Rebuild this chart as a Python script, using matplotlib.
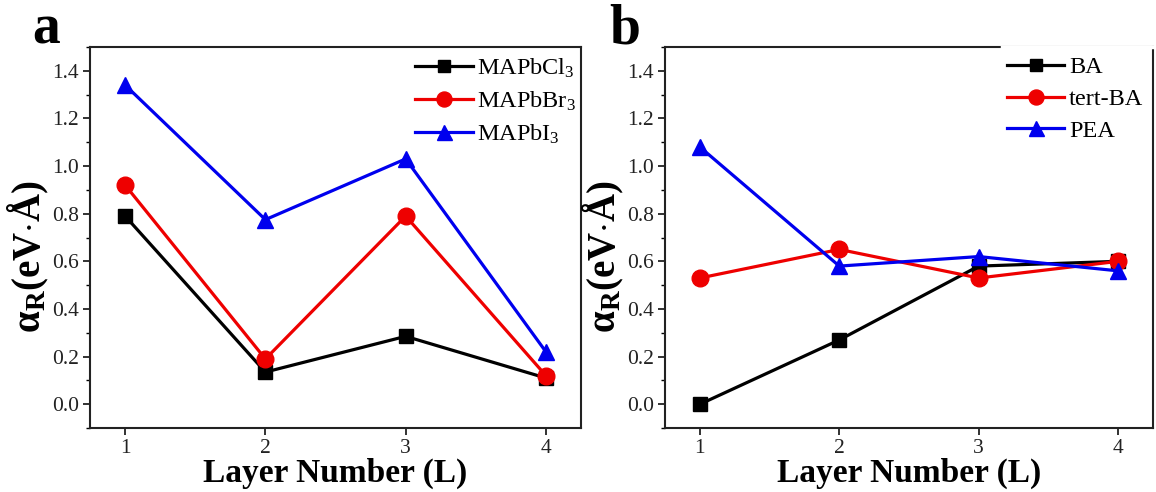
import matplotlib
matplotlib.use("Agg")
import matplotlib.pyplot as plt
from matplotlib.ticker import MultipleLocator

plt.rcParams['font.family'] = ['Liberation Serif', 'DejaVu Serif']
plt.rcParams['mathtext.fontset'] = 'custom'
plt.rcParams['mathtext.rm'] = 'Liberation Serif'
plt.rcParams['mathtext.it'] = 'Liberation Serif:italic'
plt.rcParams['mathtext.bf'] = 'Liberation Serif:bold'

layers = [1, 2, 3, 4]

# Panel a
a_labels = ['MAPbCl$_3$', 'MAPbBr$_3$', 'MAPbI$_3$']
a_cl = [0.79, 0.135, 0.285, 0.11]
a_br = [0.92, 0.19, 0.79, 0.12]
a_i = [1.34, 0.775, 1.03, 0.22]

# Panel b
b_labels = ['BA', 'tert-BA', 'PEA']
b_ba = [0.0, 0.27, 0.58, 0.60]
b_tba = [0.53, 0.65, 0.53, 0.60]
b_pea = [1.08, 0.58, 0.62, 0.56]

colors = ['#000000', '#ee0000', '#0000ee']
markers = ['s', 'o', '^']
msizes = [10, 12, 12]

fig = plt.figure(figsize=(11.56, 4.92), dpi=100)
axa = fig.add_axes([0.0779, 0.130, 0.4247, 0.7745])
axb = fig.add_axes([0.5753, 0.130, 0.4221, 0.7745])

def draw(ax, series, labels, legx):
    for s, lab, c, m, ms in zip(series, labels, colors, markers, msizes):
        ax.plot(layers, s, color=c, marker=m, markersize=ms, lw=2.3,
                label=lab, markeredgecolor=c)
    ax.set_xlim(0.75, 4.25)
    ax.set_ylim(-0.1, 1.5)
    ax.set_xticks(layers)
    ax.yaxis.set_major_locator(MultipleLocator(0.2))
    ax.yaxis.set_minor_locator(MultipleLocator(0.1))
    ax.yaxis.set_major_formatter(matplotlib.ticker.FormatStrFormatter('%.1f'))
    ax.tick_params(axis='both', which='major', direction='out', length=5,
                   width=1.3, labelsize=15.5, pad=3, colors='#222222')
    ax.tick_params(axis='y', which='minor', direction='out', length=3, width=1.0)
    for sp in ax.spines.values():
        sp.set_linewidth(1.5)
        sp.set_color('#222222')
    ax.set_xlabel('Layer Number (L)', fontsize=24, fontweight='bold', labelpad=0)
    ax.set_ylabel(r'$\mathbf{\alpha_R}$(eV$\cdot$Å)', fontsize=28,
                  fontweight='bold')
    ax.yaxis.set_label_coords(-0.08, 0.45)
    ax.legend(loc='upper right', bbox_to_anchor=(legx, 1.02), frameon=False,
              fontsize=17.5, handlelength=2.35, handletextpad=0.2,
              labelspacing=0.4, borderaxespad=0.3, markerscale=0.9)

draw(axa, [a_cl, a_br, a_i], a_labels, 1.025)
draw(axb, [b_ba, b_tba, b_pea], b_labels, 1.015)

fig.text(32 / 1156, 1 - 44 / 492, 'a', fontsize=40, fontweight='bold',
         ha='left', va='baseline')
fig.text(609 / 1156, 1 - 44 / 492, 'b', fontsize=40, fontweight='bold',
         ha='left', va='baseline')

# gap in panel b top spine (as in the reference)
axb.plot([0.69, 1.0], [1.0, 1.0], transform=axb.transAxes, color='white',
         lw=2.5, clip_on=False, zorder=10)

fig.savefig('out.png', dpi=100)
